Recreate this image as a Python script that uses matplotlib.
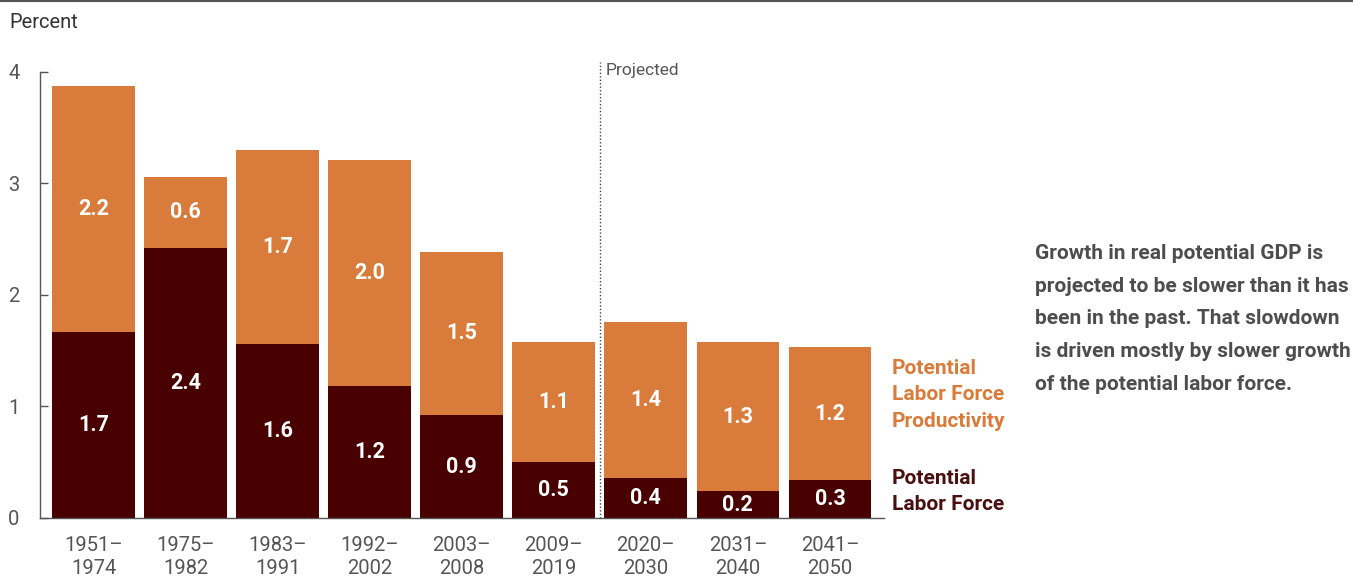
import matplotlib
matplotlib.use("Agg")
import matplotlib.pyplot as plt
from matplotlib.lines import Line2D

# Growth in real potential GDP by period, percent
periods = ["1951–\n1974", "1975–\n1982", "1983–\n1991", "1992–\n2002", "2003–\n2008",
           "2009–\n2019", "2020–\n2030", "2031–\n2040", "2041–\n2050"]
labor_force = [1.67, 2.42, 1.56, 1.18, 0.92, 0.50, 0.36, 0.24, 0.34]
productivity = [2.20, 0.64, 1.74, 2.03, 1.47, 1.08, 1.40, 1.34, 1.19]
y_ticks = [0, 1, 2, 3, 4]

ORANGE = "#D97B3A"
DARK = "#480000"
GRAY = "#555555"

plt.rcParams["font.family"] = ["Roboto", "DejaVu Sans"]

fig = plt.figure(figsize=(13.53, 5.8), dpi=100)
ax = fig.add_axes([0.0296, 0.1069, 0.624, 0.769])

x = list(range(len(periods)))
ax.bar(x, labor_force, width=0.9, color=DARK)
ax.bar(x, productivity, width=0.9, bottom=labor_force, color=ORANGE)

for i in x:
    lf = labor_force[i]
    pr = productivity[i]
    ax.text(i, lf / 2, f"{lf:.1f}", ha="center", va="center", color="white",
            fontsize=15.5, fontweight="bold")
    ax.text(i, lf + pr / 2, f"{pr:.1f}", ha="center", va="center", color="white",
            fontsize=15.5, fontweight="bold")

# projection divider
ax.plot([5.5, 5.5], [0, 4.09], linestyle=(0, (1, 1.5)), color="#444444",
        linewidth=1, clip_on=False)
ax.text(5.56, 4.08, "Projected", ha="left", va="top", fontsize=12.5, color=GRAY)

ax.set_xlim(-0.58, 8.59)
ax.set_ylim(0, 4)
ax.set_xticks(x)
ax.set_xticklabels(periods, fontsize=14.5, color=GRAY, linespacing=1.25)
ax.set_yticks(y_ticks)
ax.set_yticklabels([str(t) for t in y_ticks], fontsize=14.5, color=GRAY)
ax.tick_params(axis="x", length=0, pad=13)
ax.tick_params(axis="y", direction="in", length=6, width=1, color=GRAY, pad=23)
for lbl in ax.get_yticklabels():
    lbl.set_horizontalalignment("left")
for side in ["top", "right"]:
    ax.spines[side].set_visible(False)
for side in ["left", "bottom"]:
    ax.spines[side].set_color(GRAY)
    ax.spines[side].set_linewidth(1)

fig.text(0.007, 0.962, "Percent", ha="left", va="center", fontsize=14.5, color="#333333")
fig.add_artist(Line2D([0, 1], [0.9985, 0.9985], color="#555555", linewidth=1.5))

# series labels
fig.text(0.659, 0.319, "Potential\nLabor Force\nProductivity", ha="left", va="center",
         fontsize=15, fontweight="bold", color=ORANGE, linespacing=1.5)
fig.text(0.659, 0.1526, "Potential\nLabor Force", ha="left", va="center",
         fontsize=15, fontweight="bold", color="#4A1010", linespacing=1.5)

fig.text(0.765, 0.45,
         "Growth in real potential GDP is\nprojected to be slower than it has\n"
         "been in the past. That slowdown\nis driven mostly by slower growth\n"
         "of the potential labor force.",
         ha="left", va="center", fontsize=15, fontweight="bold", color="#4D4D4D",
         linespacing=1.93)

fig.savefig("out.png", dpi=100)
